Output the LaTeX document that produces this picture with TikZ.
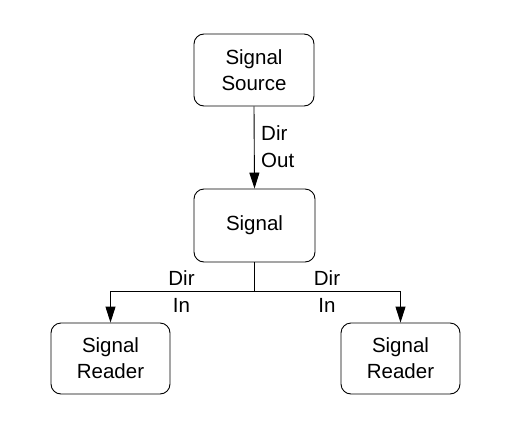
\documentclass[tikz,border=0pt]{standalone}
\usepackage{fontspec}
\setmainfont{Liberation Sans}
\usetikzlibrary{arrows.meta}
\begin{document}
\begin{tikzpicture}[x=1pt,y=-1pt,
  box/.style={draw,rounded corners=10pt,line width=0.9pt,inner sep=0pt,align=center,font=\fontsize{20.5}{26}\selectfont},
  lbl/.style={inner sep=0pt,align=center,font=\fontsize{20.5}{27}\selectfont},
  conn/.style={line width=0.9pt},
  arr/.style={conn,-{Triangle[length=16pt,width=10pt]}}]
\useasboundingbox (0,0) rectangle (506,434);
\node[box,minimum width=120pt,minimum height=72pt] (src) at (254,70) {Signal\\Source};
\node[box,minimum width=121pt,minimum height=73pt] (sig) at (254.5,225.5) {Signal};
\node[box,minimum width=119pt,minimum height=71pt] (rl) at (110.5,358.5) {Signal\\Reader};
\node[box,minimum width=119pt,minimum height=71pt] (rr) at (400.5,358.5) {Signal\\Reader};
\coordinate (j) at (254.5,291);
\draw[arr] (src.south) -- (sig.north);
\draw[conn] (sig.south) -- (j);
\draw[arr] (j) -| (rl.north);
\draw[arr] (j) -| (rr.north);
\node[lbl,align=left,anchor=west] (l1) at (261,147) {Dir\\Out};
\node[lbl] (l2) at (181.5,292) {Dir\\In};
\node[lbl] (l3) at (327,292) {Dir\\In};
\end{tikzpicture}
\end{document}
